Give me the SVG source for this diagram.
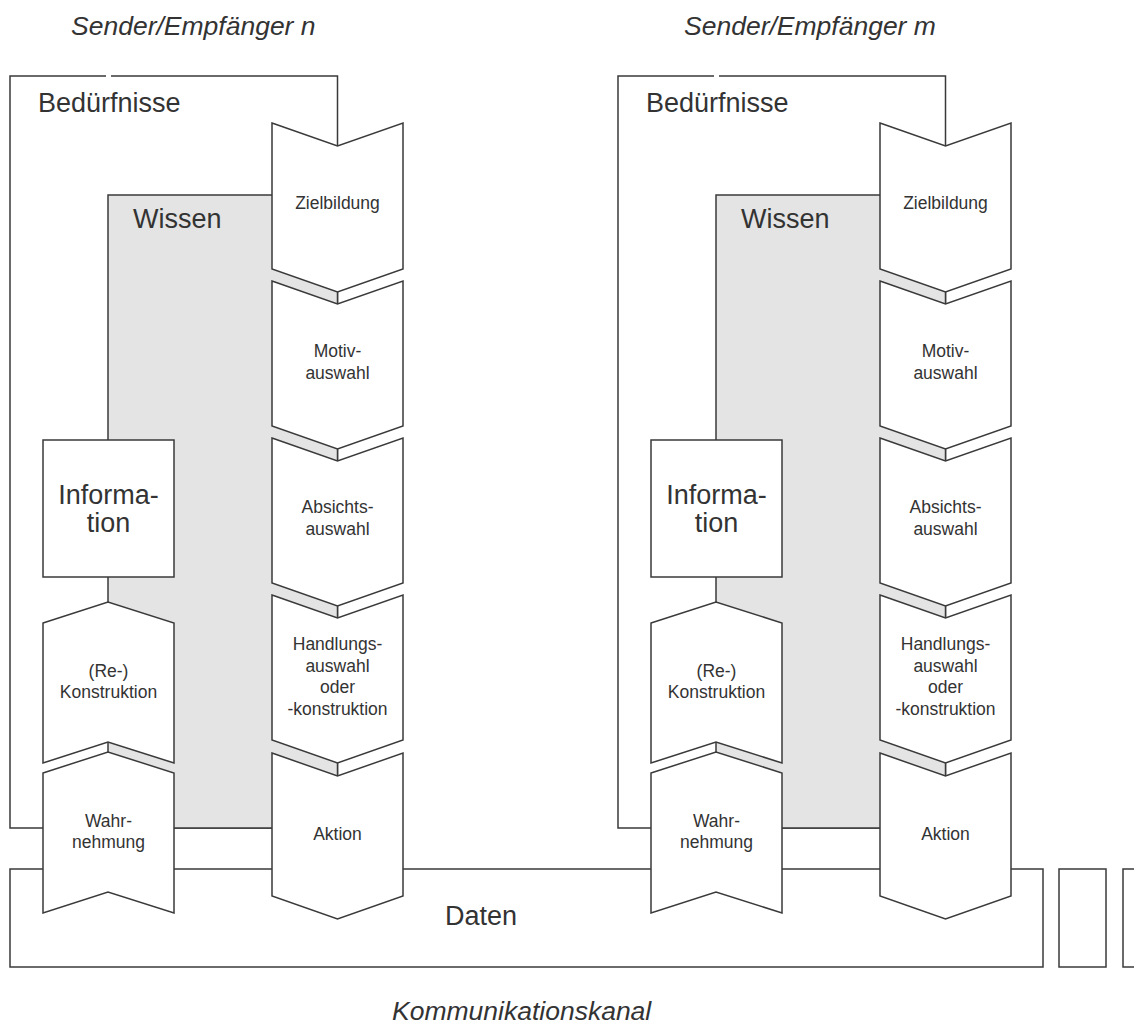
<svg xmlns="http://www.w3.org/2000/svg" width="1134" height="1032" viewBox="0 0 1134 1032">
<style>
.ln{fill:#fff;stroke:#3a3a3a;stroke-width:1.5;stroke-linejoin:miter}
.gr{fill:#e4e4e4;stroke:#3a3a3a;stroke-width:1.5}
.t{font-family:"Liberation Sans",Arial,sans-serif;fill:#333}
.big{font-size:27px}
.sm{font-size:17.5px;text-anchor:middle}
.it{font-family:"Liberation Sans",Arial,sans-serif;fill:#333;font-style:italic;font-size:26.5px}
</style>
<rect width="1134" height="1032" fill="#fff"/>

<g id="daten">
  <rect class="ln" x="10" y="869" width="1033" height="98"/>
  <text class="t big" x="445" y="925">Daten</text>
</g>
<g id="kanal-box-1"><rect class="ln" x="1059" y="869" width="47" height="98"/></g>
<g id="kanal-box-2"><rect class="ln" x="1123" y="869" width="30" height="98"/></g>

<!-- Unit n -->
<g id="unit-n">
  <g id="beduerfnisse-n">
    <path class="ln" d="M111,76 H337.5 V828 H10 V76 H106"/>
    <text class="t big" x="38" y="112">Bedürfnisse</text>
  </g>
  <g id="wissen-n">
    <rect class="gr" x="108" y="195" width="229.5" height="633"/>
    <text class="t big" x="133" y="228">Wissen</text>
  </g>
  <g id="information-n">
    <rect class="ln" x="43" y="440" width="131" height="137"/>
    <text class="t big" x="108.5" y="504" text-anchor="middle">Informa-</text>
    <text class="t big" x="108.5" y="532" text-anchor="middle">tion</text>
  </g>
  <g id="konstruktion-n">
    <polygon class="ln" points="43,623 108,602 174,623 174,763 108,742 43,763"/>
    <text class="t sm" x="108.5" y="677">(Re-)</text>
    <text class="t sm" x="108.5" y="698">Konstruktion</text>
  </g>
  <g id="wahrnehmung-n">
    <polygon class="ln" points="43,773 108,752 174,773 174,913 108,892 43,913"/>
    <text class="t sm" x="108.5" y="827">Wahr-</text>
    <text class="t sm" x="108.5" y="848">nehmung</text>
  </g>
  <g id="zielbildung-n">
    <polygon class="ln" points="272,123 337.5,146 403,123 403,269 337.5,292 272,269"/>
    <text class="t sm" x="337.5" y="209">Zielbildung</text>
  </g>
  <g id="motivauswahl-n">
    <polygon class="ln" points="272,281 337.5,304 403,281 403,426 337.5,449 272,426"/>
    <text class="t sm" x="337.5" y="357">Motiv-</text>
    <text class="t sm" x="337.5" y="379">auswahl</text>
  </g>
  <g id="absichtsauswahl-n">
    <polygon class="ln" points="272,438 337.5,461 403,438 403,583 337.5,606 272,583"/>
    <text class="t sm" x="337.5" y="513">Absichts-</text>
    <text class="t sm" x="337.5" y="535">auswahl</text>
  </g>
  <g id="handlungsauswahl-n">
    <polygon class="ln" points="272,595 337.5,618 403,595 403,740 337.5,763 272,740"/>
    <text class="t sm" x="337.5" y="650">Handlungs-</text>
    <text class="t sm" x="337.5" y="672">auswahl</text>
    <text class="t sm" x="337.5" y="693">oder</text>
    <text class="t sm" x="337.5" y="715">-konstruktion</text>
  </g>
  <g id="aktion-n">
    <polygon class="ln" points="272,753 337.5,776 403,753 403,896 337.5,919 272,896"/>
    <text class="t sm" x="337.5" y="840">Aktion</text>
  </g>
</g>

<!-- Unit m -->
<g id="unit-m">
  <g id="beduerfnisse-m">
    <path class="ln" d="M719,76 H945.5 V828 H618 V76 H714"/>
    <text class="t big" x="646" y="112">Bedürfnisse</text>
  </g>
  <g id="wissen-m">
    <rect class="gr" x="716" y="195" width="229.5" height="633"/>
    <text class="t big" x="741" y="228">Wissen</text>
  </g>
  <g id="information-m">
    <rect class="ln" x="651" y="440" width="131" height="137"/>
    <text class="t big" x="716.5" y="504" text-anchor="middle">Informa-</text>
    <text class="t big" x="716.5" y="532" text-anchor="middle">tion</text>
  </g>
  <g id="konstruktion-m">
    <polygon class="ln" points="651,623 716,602 782,623 782,763 716,742 651,763"/>
    <text class="t sm" x="716.5" y="677">(Re-)</text>
    <text class="t sm" x="716.5" y="698">Konstruktion</text>
  </g>
  <g id="wahrnehmung-m">
    <polygon class="ln" points="651,773 716,752 782,773 782,913 716,892 651,913"/>
    <text class="t sm" x="716.5" y="827">Wahr-</text>
    <text class="t sm" x="716.5" y="848">nehmung</text>
  </g>
  <g id="zielbildung-m">
    <polygon class="ln" points="880,123 945.5,146 1011,123 1011,269 945.5,292 880,269"/>
    <text class="t sm" x="945.5" y="209">Zielbildung</text>
  </g>
  <g id="motivauswahl-m">
    <polygon class="ln" points="880,281 945.5,304 1011,281 1011,426 945.5,449 880,426"/>
    <text class="t sm" x="945.5" y="357">Motiv-</text>
    <text class="t sm" x="945.5" y="379">auswahl</text>
  </g>
  <g id="absichtsauswahl-m">
    <polygon class="ln" points="880,438 945.5,461 1011,438 1011,583 945.5,606 880,583"/>
    <text class="t sm" x="945.5" y="513">Absichts-</text>
    <text class="t sm" x="945.5" y="535">auswahl</text>
  </g>
  <g id="handlungsauswahl-m">
    <polygon class="ln" points="880,595 945.5,618 1011,595 1011,740 945.5,763 880,740"/>
    <text class="t sm" x="945.5" y="650">Handlungs-</text>
    <text class="t sm" x="945.5" y="672">auswahl</text>
    <text class="t sm" x="945.5" y="693">oder</text>
    <text class="t sm" x="945.5" y="715">-konstruktion</text>
  </g>
  <g id="aktion-m">
    <polygon class="ln" points="880,753 945.5,776 1011,753 1011,896 945.5,919 880,896"/>
    <text class="t sm" x="945.5" y="840">Aktion</text>
  </g>
</g>

<g id="connectors"></g>

<g id="labels">
  <text class="it" x="71" y="35">Sender/Empfänger n</text>
  <text class="it" x="684" y="35">Sender/Empfänger m</text>
  <text class="it" x="392" y="1020">Kommunikationskanal</text>
</g>
</svg>
